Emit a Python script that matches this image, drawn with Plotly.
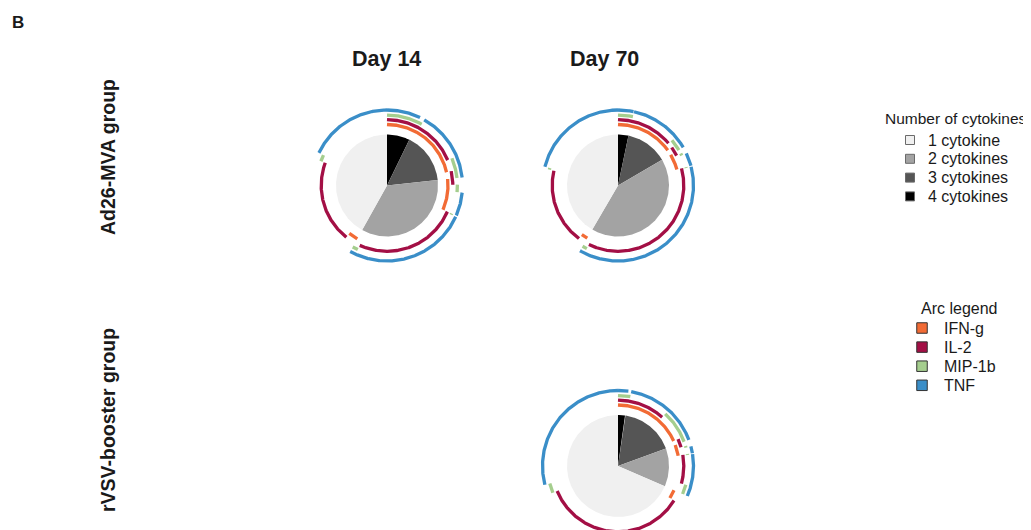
import numpy as np
import plotly.graph_objects as go

# ---------------- data ----------------
cytokines = ["IFN-g", "IL-2", "MIP-1b", "TNF"]
arc_colors = ["#F26B35", "#A30F45", "#A5CE8E", "#3A8EC8"]

combos = [
    "IFN-g+IL-2+MIP-1b+TNF",
    "IFN-g+IL-2+MIP-1b",
    "IFN-g+IL-2+TNF",
    "IFN-g+MIP-1b+TNF",
    "IL-2+MIP-1b+TNF",
    "IFN-g+IL-2",
    "IFN-g+MIP-1b",
    "IFN-g+TNF",
    "IL-2+MIP-1b",
    "IL-2+TNF",
    "MIP-1b+TNF",
    "IFN-g",
    "IL-2",
    "MIP-1b",
    "TNF",
]

count_labels = ["1 cytokine", "2 cytokines", "3 cytokines", "4 cytokines"]
count_colors = ["#F0F0F0", "#A3A3A3", "#555555", "#000000"]

# percentage of responding cells per combination
day14_ad26 = [7.2, 1.0, 10.5, 2.8, 1.8, 1.5, 1.7, 5.0, 0.3, 25.0, 1.3, 2.5, 20.0, 1.5, 17.9]
day70_ad26 = [3.3, 0.1, 10.5, 1.3, 1.4, 0.9, 0.5, 2.8, 0.2, 36.3, 1.1, 1.7, 18.5, 0.4, 21.0]
day70_rvsv = [2.2, 0.6, 8.9, 6.6, 1.1, 1.0, 0.4, 1.5, 0.2, 6.8, 2.2, 2.3, 35.0, 2.2, 29.0]

col_titles = ["Day 14", "Day 70"]
row_titles = ["Ad26-MVA group", "rVSV-booster group"]

# ---------------- layout constants ----------------
# page has an 8px body margin; axis ranges are expressed in page pixels
PAGE_W, PAGE_H, OFF = 1031, 530, 8
FONT = "Arial, Liberation Sans, sans-serif"
PIE_R = 51
RING_R = [61.0, 65.8, 70.4, 75.5]
ARC_W = 3.3

panels = [
    (day14_ad26, 387, 185.5),
    (day70_ad26, 618, 185.5),
    (day70_rvsv, 618, 466.0),
]


def arc_xy(cx, cy, r, a0, a1):
    n = max(2, int(abs(a1 - a0)) * 2 + 2)
    t = np.radians(np.linspace(a0, a1, n))
    return list(cx + r * np.sin(t)), list(cy - r * np.cos(t))


fig = go.Figure()

for values, cx, cy in panels:
    v = np.array(values, dtype=float)
    frac = v / v.sum()
    ends = np.cumsum(frac) * 360.0
    starts = ends - frac * 360.0
    ncyt = [len(c.split("+")) for c in combos]

    # pie wedges per number of cytokines
    for k in (4, 3, 2, 1):
        idx = [i for i in range(len(combos)) if ncyt[i] == k]
        a0, a1 = starts[idx[0]], ends[idx[-1]]
        xs, ys = arc_xy(cx, cy, PIE_R, a0, a1)
        fig.add_trace(go.Scatter(
            x=[cx] + xs + [cx], y=[cy] + ys + [cy],
            mode="lines", fill="toself", fillcolor=count_colors[k - 1],
            line=dict(width=0, color=count_colors[k - 1]),
            hoverinfo="skip", showlegend=False))

    # arcs per cytokine
    for ci, cyt in enumerate(cytokines):
        runs = []
        for i, c in enumerate(combos):
            if cyt in c.split("+"):
                if runs and abs(runs[-1][1] - starts[i]) < 1e-9:
                    runs[-1][1] = ends[i]
                else:
                    runs.append([starts[i], ends[i]])
        X, Y = [], []
        for a0, a1 in runs:
            xs, ys = arc_xy(cx, cy, RING_R[ci], a0, a1)
            X += xs + [None]
            Y += ys + [None]
        fig.add_trace(go.Scatter(
            x=X, y=Y, mode="lines",
            line=dict(color=arc_colors[ci], width=ARC_W),
            hoverinfo="skip", showlegend=False))

# ---------------- legends (drawn as keys) ----------------
annotations = []

leg1_title_xy = (883, 118)
leg1_sq_x, leg1_txt_x, leg1_y0, leg1_dy = 910, 926, 140, 18.8
leg1_y = [leg1_y0 + i * leg1_dy for i in range(len(count_labels))]
fig.add_trace(go.Scatter(
    x=[leg1_sq_x] * len(count_labels), y=leg1_y, mode="markers",
    marker=dict(symbol="square", size=9, color=count_colors,
                line=dict(color="#6a6a6a", width=1)),
    hoverinfo="skip", showlegend=False))
annotations.append(dict(text="Number of cytokines", x=leg1_title_xy[0], y=leg1_title_xy[1],
                        xanchor="left", font=dict(size=15.5)))
for lab, yy in zip(count_labels, leg1_y):
    annotations.append(dict(text=lab, x=leg1_txt_x, y=yy, xanchor="left", font=dict(size=16)))

leg2_title_xy = (919, 308)
leg2_sq_x, leg2_txt_x, leg2_y0, leg2_dy = 922, 942, 328, 19.1
leg2_y = [leg2_y0 + i * leg2_dy for i in range(len(cytokines))]
fig.add_trace(go.Scatter(
    x=[leg2_sq_x] * len(cytokines), y=leg2_y, mode="markers",
    marker=dict(symbol="square", size=10.5, color=arc_colors,
                line=dict(color="#333333", width=1)),
    hoverinfo="skip", showlegend=False))
annotations.append(dict(text="Arc legend", x=leg2_title_xy[0], y=leg2_title_xy[1],
                        xanchor="left", font=dict(size=16)))
for lab, yy in zip(cytokines, leg2_y):
    annotations.append(dict(text=lab, x=leg2_txt_x, y=yy, xanchor="left", font=dict(size=16)))

# ---------------- titles ----------------
annotations += [
    dict(text="<b>B</b>", x=18, y=22, xanchor="center", font=dict(size=17)),
    dict(text="<b>%s</b>" % col_titles[0], x=386, y=59, xanchor="center", font=dict(size=21.5)),
    dict(text="<b>%s</b>" % col_titles[1], x=604, y=59, xanchor="center", font=dict(size=21.5)),
    dict(text="<b>%s</b>" % row_titles[0], x=108, y=157, xanchor="center", textangle=-90,
         font=dict(size=19.5)),
    dict(text="<b>%s</b>" % row_titles[1], x=108, y=420, xanchor="center", textangle=-90,
         font=dict(size=19.5)),
]
for a in annotations:
    a.update(xref="x", yref="y", showarrow=False, yanchor="middle")

fig.update_layout(
    width=PAGE_W - OFF, height=PAGE_H - OFF,
    margin=dict(l=0, r=0, t=0, b=0),
    paper_bgcolor="white", plot_bgcolor="white",
    font=dict(family=FONT, color="#1a1a1a", size=16),
    xaxis=dict(range=[OFF, PAGE_W], visible=False, fixedrange=True, domain=[0, 1]),
    yaxis=dict(range=[PAGE_H, OFF], visible=False, fixedrange=True, domain=[0, 1]),
    annotations=annotations,
    showlegend=False,
)

fig.write_html("out.html")
